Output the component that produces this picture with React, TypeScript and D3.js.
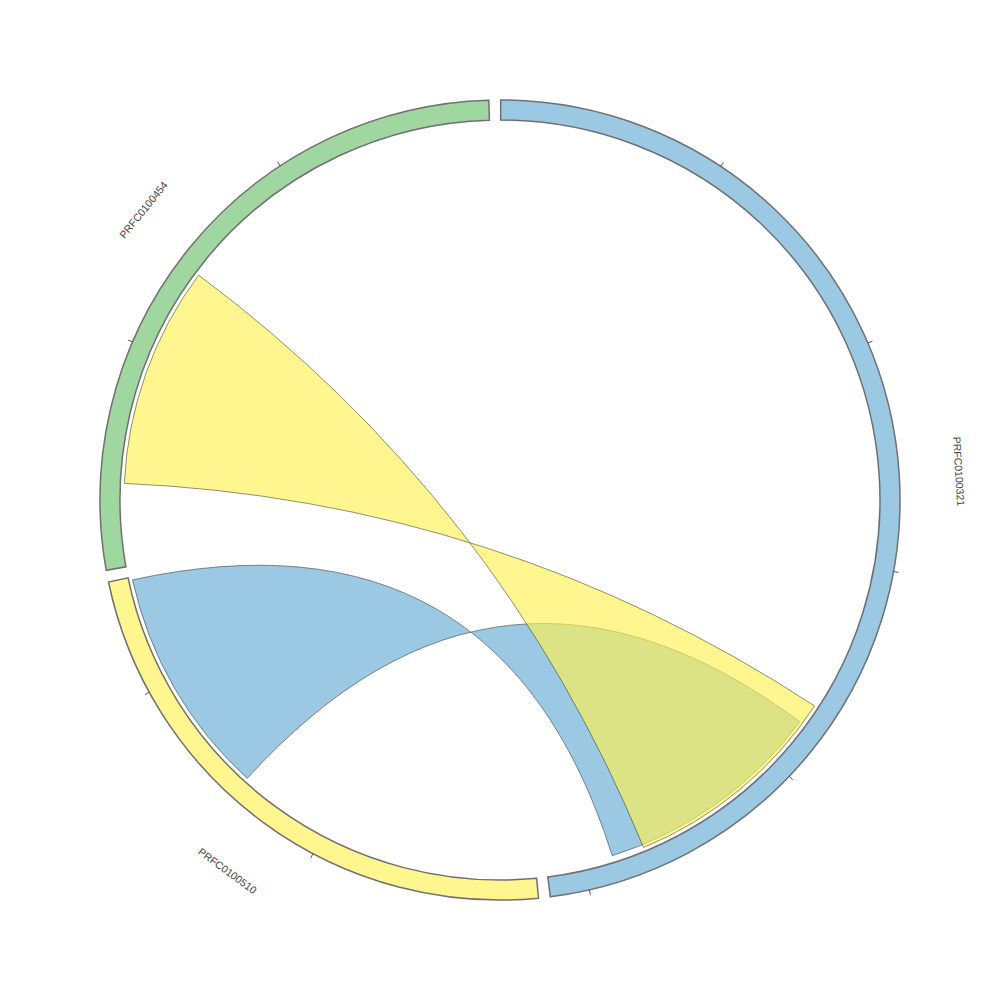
import React from 'react';
import * as d3 from 'd3';

// ---- data ----
const groupNames = ['PRFC0100321', 'PRFC0100510', 'PRFC0100454'];
const groupSizes = [51.7, 25.06, 29.5];
const groupColors = ['#65AAD2', '#FFF153', '#6DC06D'];
const tickStep = 10;

// links (drawn in this order)
const linkSource = [1, 2];
const linkSourceStart = [14.3, 3.79];
const linkSourceEnd = [24.93, 14.03];
const linkTarget = [0, 0];
const linkTargetStart = [37.84, 36.86];
const linkTargetEnd = [48.62, 47.14];
const linkColorGroup = [0, 1];

// ---- layout ----
const W = 1000, H = 1000, CX = 500, CY = 500;
const R_OUT = 400, R_IN = 380, R_CHORD = 376;
const TARGET_SHRINK = [3, 0];
const PAD = (1.7 * Math.PI) / 180;
const OFFSET = (0.1 * Math.PI) / 180;
const OPACITY = 0.65;

const total = d3.sum(groupSizes);
const k = d3.scaleLinear().domain([0, total]).range([0, 2 * Math.PI - PAD * groupSizes.length]);
const groupStart: number[] = [];
{
  let cum = 0;
  groupSizes.forEach((s, i) => {
    groupStart.push(OFFSET + k(cum) + i * PAD);
    cum += s;
  });
}
const ang = (g: number, v: number) => groupStart[g] + k(v);
const pt = (a: number, r: number): [number, number] => [CX + r * Math.sin(a), CY - r * Math.cos(a)];

function ribbonPath(i: number) {
  const s0 = ang(linkSource[i], linkSourceStart[i]);
  const s1 = ang(linkSource[i], linkSourceEnd[i]);
  const t0 = ang(linkTarget[i], linkTargetStart[i]);
  const t1 = ang(linkTarget[i], linkTargetEnd[i]);
  const rt = R_CHORD - TARGET_SHRINK[i];
  const p = d3.path();
  const [x0, y0] = pt(s0, R_CHORD);
  p.moveTo(x0, y0);
  p.arc(CX, CY, R_CHORD, s0 - Math.PI / 2, s1 - Math.PI / 2, false);
  const [xt1, yt1] = pt(t1, rt);
  p.quadraticCurveTo(CX, CY, xt1, yt1);
  p.arc(CX, CY, rt, t1 - Math.PI / 2, t0 - Math.PI / 2, true);
  p.quadraticCurveTo(CX, CY, x0, y0);
  p.closePath();
  return p.toString();
}

export default function App() {
  const arcGen = d3.arc<any>().innerRadius(R_IN).outerRadius(R_OUT);
  return (
    <svg width={W} height={H} style={{ position: 'absolute', left: 0, top: 0, background: '#fff' }}>
      {linkSource.map((_, i) => (
        <path
          key={'l' + i}
          d={ribbonPath(i)}
          fill={groupColors[linkColorGroup[i]]}
          fillOpacity={OPACITY}
          stroke="#222"
          strokeWidth={0.5}
        />
      ))}
      {groupSizes.map((s, g) => {
        const a0 = groupStart[g];
        const a1 = groupStart[g] + k(s);
        const ticks = d3.range(tickStep, s, tickStep);
        const mid = (a0 + a1) / 2;
        const [lx, ly] = pt(mid, 460);
        let rot = (mid * 180) / Math.PI;
        if (rot > 90 && rot < 270) rot -= 180;
        return (
          <g key={'g' + g}>
            <path
              transform={`translate(${CX},${CY})`}
              d={arcGen({ startAngle: a0, endAngle: a1 }) as string}
              fill={groupColors[g]}
              fillOpacity={OPACITY}
              stroke="#707070"
              strokeWidth={1.5}
            />
            {ticks.map((t) => {
              const a = ang(g, t);
              const [x1, y1] = pt(a, R_OUT);
              const [x2, y2] = pt(a, R_OUT + 5);
              return <line key={t} x1={x1} y1={y1} x2={x2} y2={y2} stroke="#555" strokeWidth={1} />;
            })}
            <text
              transform={`translate(${lx},${ly}) rotate(${rot})`}
              textAnchor="middle"
              dominantBaseline="central"
              fontFamily="Liberation Sans, Arial, sans-serif"
              fontSize={10.5}
              fill="#444"
            >
              {groupNames[g]}
            </text>
          </g>
        );
      })}
    </svg>
  );
}
